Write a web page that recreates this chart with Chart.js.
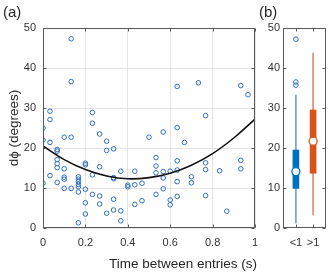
<!DOCTYPE html>
<html>
<head>
<meta charset="utf-8">
<script src="https://cdn.jsdelivr.net/npm/chart.js@4.4.1/dist/chart.umd.min.js"></script>
<style>
  html, body { margin: 0; padding: 0; background: #fff; }
  #wrap { position: relative; width: 334px; height: 277px; font-family: 'Liberation Sans', Arial, sans-serif; color: #262626; }
  #cvA { position: absolute; left: 0; top: 0; width: 262px; height: 277px; }
  #cvB { position: absolute; left: 262px; top: 0; width: 72px; height: 277px; }
  .lbl { position: absolute; white-space: nowrap; }
</style>
</head>
<body>
<div id="wrap">
  <canvas id="cvA" width="262" height="277"></canvas>
  <canvas id="cvB" width="72" height="277"></canvas>
  <div class="lbl" style="left:3px;top:3px;font-size:15px">(a)</div>
  <div class="lbl" style="left:259px;top:3px;font-size:15px">(b)</div>
  <div class="lbl" style="left:183px;top:256px;font-size:13.5px;transform:translateX(-50%)">Time between entries (s)</div>
</div>
<script>
// ── DATA ──

// panel (a): one point per entry (time in s, dphi in degrees)
const timeX = [
  0, 0, 0,
  0.033, 0.033, 0.033, 0.033,
  0.067, 0.067, 0.067, 0.067, 0.067, 0.067,
  0.1, 0.1, 0.1, 0.1, 0.1,
  0.133, 0.133, 0.133, 0.133,
  0.167, 0.167, 0.167, 0.167, 0.167, 0.167, 0.167,
  0.2, 0.2, 0.2, 0.2, 0.2,
  0.233, 0.233, 0.233, 0.233,
  0.267, 0.267, 0.267, 0.267,
  0.3, 0.3, 0.3,
  0.333, 0.333, 0.333, 0.333, 0.333,
  0.367, 0.367, 0.367,
  0.4, 0.4,
  0.433, 0.433, 0.433,
  0.467, 0.467,
  0.5,
  0.533, 0.533, 0.533, 0.533,
  0.567, 0.567, 0.567, 0.567,
  0.6, 0.6, 0.6,
  0.633, 0.633, 0.633, 0.633, 0.633, 0.633,
  0.667,
  0.7, 0.7,
  0.733,
  0.767, 0.767, 0.767, 0.767,
  0.833,
  0.867,
  0.933, 0.933, 0.933,
  0.967
];
const dPhi = [
  25, 22, 11.2,
  29.2, 27.1, 21.4, 13.1,
  19.6, 19.2, 17.1, 16.1, 15.1, 11.4,
  22.7, 14.8, 12.7, 12.2, 9.9,
  47.3, 36.6, 22.7, 9.9,
  12.8, 12.2, 11.6, 10.9, 10.3, 9, 1.3,
  16.2, 15.8, 9.7, 6.3, 3.5,
  28.9, 26.2, 13.3, 8.4,
  23.5, 15.3, 8, 6,
  21.7, 19.4, 3.7,
  19.8, 12.6, 12.3, 7.2, 4.5,
  14.2, 4.3, 1.8,
  10.7, 10.3,
  14.2, 10.8, 5.9,
  11.2, 6.8,
  22.7,
  17.6, 15.5, 13.8, 8.4,
  24, 14.1, 12.5, 9.8,
  14.2, 7, 5.8,
  35.4, 25.1, 16.8, 14.5, 11.6, 7.9,
  21.4,
  12.8, 11.3,
  36.3,
  28.1, 16.3, 14.6, 8.1,
  14.3,
  4.2,
  35.6, 16.9, 14.8,
  33.3
];

// quadratic fit
const fitX = [0, 0.1, 0.2, 0.3, 0.4, 0.5, 0.6, 0.7, 0.8, 0.9, 1];
const fitY = [20.5, 17.1, 14.6, 13.0, 12.3, 12.6, 13.7, 15.7, 18.6, 22.5, 27.2];

const xTicksA = [0, 0.2, 0.4, 0.6, 0.8, 1];
const yTicks = [0, 10, 20, 30, 40, 50];

// panel (b): box plots
const boxCats = ['<1', '>1'];
const whiskLo = [1.3, 3.3];
const whiskHi = [33.2, 43.7];
const q1 = [9.9, 13.7];
const q3 = [19.5, 29.5];
const medians = [14.1, 21.7];
const outliersLt1 = [47.2, 36.5, 35.7];

const BLUE = '#0072BD';
const RED = '#D95319';
const FONT = "'Liberation Sans', Arial, sans-serif";

// ── inward ticks + box around the axes ──
const frameTicks = {
  id: 'frameTicks',
  afterDraw(chart) {
    const { ctx, chartArea: a, scales } = chart;
    const L = Math.round(a.left) + 0.5, R = Math.round(a.right) - 0.5;
    const T = Math.round(a.top) + 0.5, B = Math.round(a.bottom) - 0.5;
    ctx.save();
    ctx.strokeStyle = '#5a5a5a';
    ctx.lineWidth = 1;
    ctx.strokeRect(L, T, R - L, B - T);
    ctx.beginPath();
    scales.x.ticks.forEach(t => {
      const px = Math.round(scales.x.getPixelForValue(t.value)) + 0.5;
      ctx.moveTo(px, B); ctx.lineTo(px, B - 3);
      ctx.moveTo(px, T); ctx.lineTo(px, T + 3);
    });
    scales.y.ticks.forEach(t => {
      const py = Math.round(scales.y.getPixelForValue(t.value)) + 0.5;
      ctx.moveTo(L, py); ctx.lineTo(L + 3, py);
      ctx.moveTo(R, py); ctx.lineTo(R - 3, py);
    });
    ctx.stroke();
    ctx.restore();
  }
};

function setTicks(list) {
  return scale => { scale.ticks = list.map(v => ({ value: v })); };
}

// fixed axis band, no extra room asked for the edge labels
function fixHeight(h) {
  return s => { s.height = h; s.paddingLeft = 0; s.paddingRight = 0; };
}

// ── PANEL (a) ──

new Chart(document.getElementById('cvA'), {
  type: 'scatter',
  data: {
    datasets: [
      {
        type: 'line',
        data: fitX.map((x, i) => ({ x, y: fitY[i] })),
        borderColor: '#111',
        borderWidth: 1.6,
        pointRadius: 0,
        tension: 0.4,
        fill: false
      },
      {
        data: timeX.map((x, i) => ({ x, y: dPhi[i] })),
        pointStyle: 'circle',
        pointRadius: 2.3,
        pointBorderWidth: 1,
        pointBorderColor: '#2f6fc0',
        pointBackgroundColor: 'rgba(0,0,0,0)'
      }
    ]
  },
  options: {
    responsive: false,
    animation: false,
    events: [],
    layout: { padding: { left: 0, top: 28, right: 7, bottom: 0 } },
    plugins: { legend: { display: false }, tooltip: { enabled: false } },
    scales: {
      x: {
        type: 'linear',
        min: 0, max: 1,
        afterBuildTicks: setTicks(xTicksA),
        afterFit: fixHeight(49),
        grid: { color: '#e4e4e4', drawTicks: false },
        border: { display: false },
        ticks: {
          padding: 8,
          color: '#333',
          font: { family: FONT, size: 11 },
          callback: v => String(+v.toFixed(1))
        }
      },
      y: {
        min: 0, max: 50,
        afterBuildTicks: setTicks(yTicks),
        afterFit: s => { s.width = 43; },
        grid: { color: '#e4e4e4', drawTicks: false },
        border: { display: false },
        ticks: { padding: 7, color: '#333', font: { family: FONT, size: 11 } },
        title: {
          display: true,
          text: 'dϕ (degrees)',
          color: '#262626',
          font: { family: FONT, size: 13.5 },
          padding: { top: 6, bottom: 0 }
        }
      }
    }
  },
  plugins: [frameTicks]
});

// ── PANEL (b) ──

new Chart(document.getElementById('cvB'), {
  type: 'bar',
  data: {
    datasets: [
      {
        type: 'scatter',
        data: medians.map((m, i) => ({ x: i + 1, y: m })),
        pointRadius: 4,
        pointBorderWidth: 1.3,
        pointBorderColor: [BLUE, RED],
        pointBackgroundColor: '#fff'
      },
      {
        type: 'scatter',
        data: outliersLt1.map(v => ({ x: 1, y: v })),
        pointRadius: 2.3,
        pointBorderWidth: 1,
        pointBorderColor: '#2f6fc0',
        pointBackgroundColor: 'rgba(0,0,0,0)'
      },
      {
        data: q1.map((v, i) => ({ x: i + 1, y: [v, q3[i]] })),
        backgroundColor: [BLUE, RED],
        barThickness: 6,
        grouped: false,
        borderWidth: 0
      },
      {
        data: whiskLo.map((v, i) => ({ x: i + 1, y: [v, whiskHi[i]] })),
        backgroundColor: ['#6f9fd8', '#e38a72'],
        barThickness: 1,
        grouped: false,
        borderWidth: 0
      }
    ]
  },
  options: {
    responsive: false,
    animation: false,
    events: [],
    layout: { padding: { left: 0, top: 28, right: 8, bottom: 0 } },
    plugins: { legend: { display: false }, tooltip: { enabled: false } },
    scales: {
      x: {
        type: 'linear',
        offset: false,
        min: 0.25, max: 2.75,
        afterBuildTicks: setTicks([1, 2]),
        afterFit: fixHeight(49),
        grid: { display: false, drawTicks: false, offset: false },
        border: { display: false },
        ticks: {
          padding: 8,
          color: '#333',
          font: { family: FONT, size: 11 },
          callback: v => boxCats[Math.round(v) - 1]
        }
      },
      y: {
        min: 0, max: 50,
        afterBuildTicks: setTicks(yTicks),
        afterFit: s => { s.width = 21; },
        grid: { display: false, drawTicks: false },
        border: { display: false },
        ticks: { padding: 3, color: '#333', font: { family: FONT, size: 11 } }
      }
    }
  },
  plugins: [frameTicks]
});
</script>
</body>
</html>
